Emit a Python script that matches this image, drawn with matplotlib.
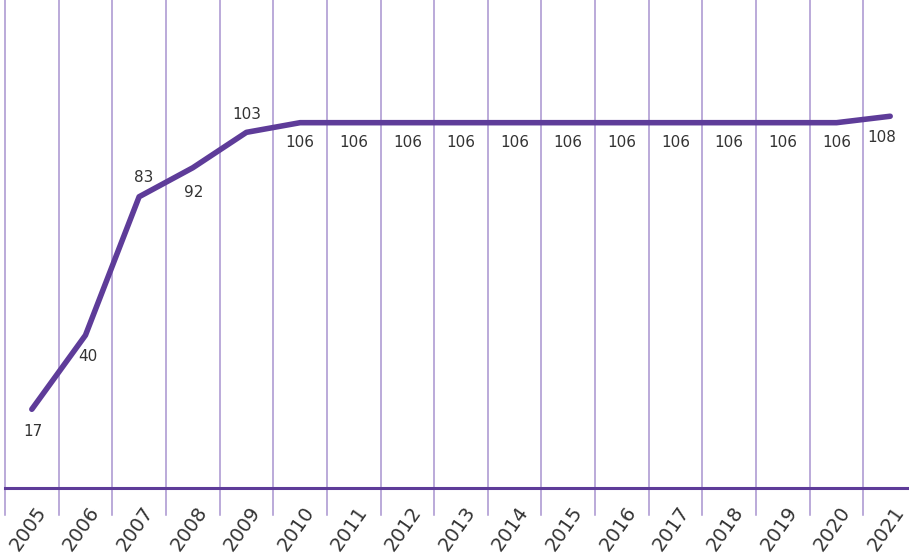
import matplotlib.pyplot as plt
import matplotlib.transforms as mtransforms
import numpy as np

years = [str(y) for y in range(2005, 2022)]
values = [17, 40, 83, 92, 103, 106, 106, 106, 106, 106, 106, 106, 106, 106, 106, 106, 108]

# label offsets in points (dx, dy) relative to each point
label_offsets = [(1, -16), (2, -15), (3, 14), (1, -18), (0, 13)] + [(0, -14)] * 11 + [(-6, -15)]

line_color = "#5e3c99"
grid_color = "#a893cf"
text_color = "#333333"

fig = plt.figure(figsize=(9.09, 5.60), dpi=100)
ax = fig.add_axes([5 / 909, 1 - 488 / 560, 908 / 909, 488 / 560])

x = np.arange(len(years))
ax.set_xlim(-0.5, len(years) - 0.5 - 4 / 53.4)
ax.set_ylim(-7.45, 144.1)

# vertical separators between categories, extending below the base line
for b in np.arange(-0.5, len(years), 1.0):
    ax.axvline(b, ymin=-27 / 488, ymax=1, color=grid_color, lw=1.1, clip_on=False, zorder=1)

ax.axhline(-7.45, color=line_color, lw=2.2, zorder=2, clip_on=False)

ax.plot(x, values, color=line_color, lw=4, solid_capstyle="round", zorder=3)

for xi, v, (dx, dy) in zip(x, values, label_offsets):
    ax.annotate(str(v), (xi, v), xytext=(dx, dy), textcoords="offset points",
                ha="center", va="center", fontsize=11, color=text_color)

# category labels, rotated, drawn under the base line
base = ax.get_xaxis_transform()
shift = mtransforms.ScaledTranslation(-4 / 100, -15 / 100, fig.dpi_scale_trans)
for xi, yr in zip(x, years):
    ax.text(xi, 0, yr, transform=base + shift, rotation=55, ha="center", va="top",
            fontsize=14, color=text_color, clip_on=False)

ax.set_xticks([])
ax.set_yticks([])
for s in ax.spines.values():
    s.set_visible(False)

fig.savefig("out.png", dpi=100)
